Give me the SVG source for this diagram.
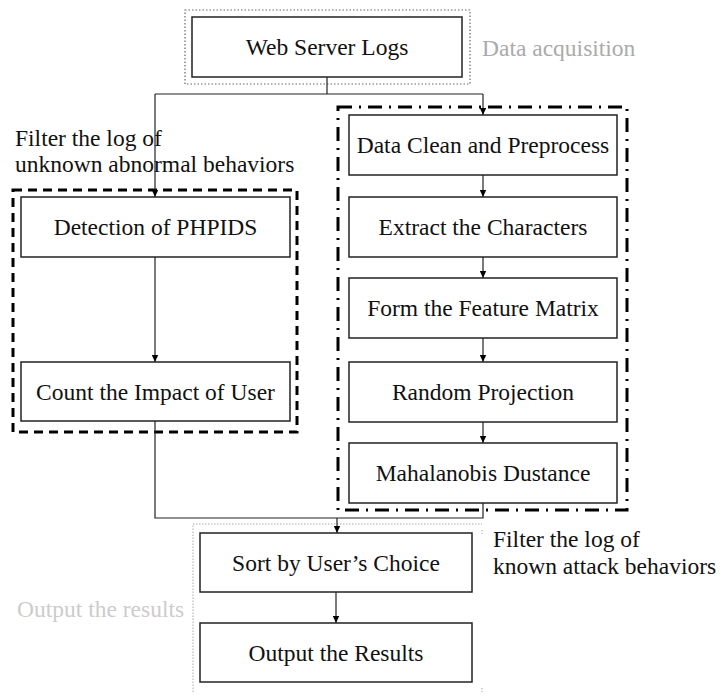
<svg xmlns="http://www.w3.org/2000/svg" width="722" height="696" viewBox="0 0 722 696">
<defs>
<marker id="arr" markerWidth="8" markerHeight="8" refX="7" refY="4" orient="auto" markerUnits="userSpaceOnUse">
<path d="M0,0.8 L7,4 L0,7.2 Z" fill="#000"/>
</marker>
<style>
.box{fill:#fff;stroke:#222;stroke-width:1.5}
.t{font-family:"Liberation Serif","Times New Roman",serif;font-size:23.5px;fill:#111;text-anchor:middle}
.lbl{font-family:"Liberation Serif","Times New Roman",serif;font-size:23.5px;fill:#111}
.conn{fill:none;stroke:#222;stroke-width:1.2}
.dotted{fill:none;stroke:#666;stroke-width:1.2;stroke-dasharray:1.5,2}
.faint{fill:none;stroke:#aaa;stroke-width:1;stroke-dasharray:1.5,1.5}
.dashed{fill:none;stroke:#000;stroke-width:3;stroke-dasharray:9,6}
.dashdot{fill:none;stroke:#000;stroke-width:3;stroke-dasharray:14,7,2,7}
</style>
</defs>
<rect width="722" height="696" fill="#fff"/>

<g id="group-acquisition">
<rect class="dotted" x="185" y="10" width="285" height="74"/>
<text class="lbl" x="482" y="56" style="fill:#aaa">Data acquisition</text>
</g>
<g id="group-unknown">
<rect class="dashed" x="13" y="190" width="284" height="242"/>
<text class="lbl" x="15" y="146">Filter the log of</text>
<text class="lbl" x="15" y="172">unknown abnormal behaviors</text>
</g>
<g id="group-known">
<rect class="dashdot" x="338" y="107" width="289" height="403"/>
<text class="lbl" x="493" y="547">Filter the log of</text>
<text class="lbl" x="493" y="574">known attack behaviors</text>
</g>
<g id="group-output">
<path class="faint" d="M193,692 V524 H482"/>
<path class="faint" d="M482,530 V534 M482,688 V692"/>
<text class="lbl" x="17" y="617" style="fill:#ccc">Output the results</text>
</g>

<g id="connectors">
<path class="conn" d="M327,77 V94"/>
<path class="conn" d="M155,94 H483"/>
<path class="conn" d="M155,94 V197" marker-end="url(#arr)"/>
<path class="conn" d="M483,94 V115" marker-end="url(#arr)"/>
<path class="conn" d="M155,257 V362" marker-end="url(#arr)"/>
<path class="conn" d="M483,175 V197" marker-end="url(#arr)"/>
<path class="conn" d="M483,257 V278" marker-end="url(#arr)"/>
<path class="conn" d="M483,338 V362" marker-end="url(#arr)"/>
<path class="conn" d="M483,422 V443" marker-end="url(#arr)"/>
<path class="conn" d="M155,421 V518 H483 V503"/>
<path class="conn" d="M337,518 V533" marker-end="url(#arr)"/>
<path class="conn" d="M336,592 V623" marker-end="url(#arr)"/>
</g>

<g id="web-server-logs">
<rect class="box" x="192" y="17" width="270" height="60"/>
<text class="t" x="327" y="55">Web Server Logs</text>
</g>
<g id="detection-phpids">
<rect class="box" x="21" y="197" width="269" height="60"/>
<text class="t" x="155.5" y="235">Detection of PHPIDS</text>
</g>
<g id="count-impact">
<rect class="box" x="21" y="362" width="269" height="59"/>
<text class="t" x="155.5" y="400">Count the Impact of User</text>
</g>
<g id="data-clean">
<rect class="box" x="349" y="115" width="268" height="60"/>
<text class="t" x="483" y="153">Data Clean and Preprocess</text>
</g>
<g id="extract-characters">
<rect class="box" x="349" y="197" width="268" height="60"/>
<text class="t" x="483" y="235">Extract the Characters</text>
</g>
<g id="feature-matrix">
<rect class="box" x="349" y="278" width="268" height="60"/>
<text class="t" x="483" y="316">Form the Feature Matrix</text>
</g>
<g id="random-projection">
<rect class="box" x="349" y="362" width="268" height="60"/>
<text class="t" x="483" y="400">Random Projection</text>
</g>
<g id="mahalanobis">
<rect class="box" x="349" y="443" width="268" height="60"/>
<text class="t" x="483" y="481">Mahalanobis Dustance</text>
</g>
<g id="sort-choice">
<rect class="box" x="200" y="533" width="272" height="59"/>
<text class="t" x="336" y="571">Sort by User’s Choice</text>
</g>
<g id="output-results">
<rect class="box" x="200" y="623" width="272" height="59"/>
<text class="t" x="336" y="661">Output the Results</text>
</g>
</svg>
